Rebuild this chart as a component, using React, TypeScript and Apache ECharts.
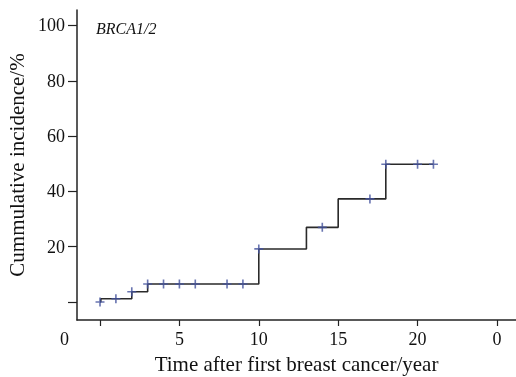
import React, { useEffect, useRef } from "react";
import * as echarts from "echarts";

const stepTimes = [0, 0.05, 2, 3, 10, 13, 15, 18, 21];
const stepValues = [0, 1.2, 3.7, 6.5, 19.2, 27, 37.3, 49.8, 49.8];
const censorTimes = [0, 1, 2, 3, 4, 5, 6, 8, 9, 10, 14, 17, 18, 20, 21];
const censorValues = [0, 1.2, 3.7, 6.5, 6.5, 6.5, 6.5, 6.5, 6.5, 19.2, 27, 37.3, 49.8, 49.8, 49.8];
const xTickValues = [0, 5, 10, 15, 20, 25];
const xLabelValues = [5, 10, 15, 20, 25];
const xLabelTexts: Record<number, string> = { 5: "5", 10: "10", 15: "15", 20: "20", 25: "0" };
const yTickValues = [0, 20, 40, 60, 80, 100];
const yLabelValues = [20, 40, 60, 80, 100];

const FONT = "Liberation Serif";
const PLUS = "path://M-0.9,-5H0.9V-0.9H5V0.9H0.9V5H-0.9V0.9H-5V-0.9H-0.9Z";

export default function App() {
  const ref = useRef<HTMLDivElement>(null);
  useEffect(() => {
    if (!ref.current) return;
    const chart = echarts.init(ref.current, undefined, { renderer: "svg" });
    chart.setOption({
      animation: false,
      grid: { left: 77, right: 0, top: 10, bottom: 57, outerBoundsMode: "none", containLabel: false },
      xAxis: {
        type: "value",
        min: -1.45,
        max: 26.2,
        name: "Time after first breast cancer/year",
        nameLocation: "middle",
        nameGap: 33,
        nameTextStyle: { fontFamily: FONT, fontSize: 21, color: "#111" },
        splitLine: { show: false },
        axisLine: { show: true, onZero: false, lineStyle: { color: "#222", width: 1.5 } },
        axisTick: { show: true, length: 6, customValues: xTickValues, lineStyle: { color: "#222", width: 1.2 } },
        axisLabel: {
          customValues: xLabelValues,
          formatter: (v: number) => xLabelTexts[v] ?? "",
          fontFamily: FONT,
          fontSize: 18,
          color: "#111",
          margin: 10,
        },
      },
      yAxis: {
        type: "value",
        min: -6.5,
        max: 105.6,
        name: "Cummulative incidence/%",
        nameLocation: "middle",
        nameGap: 49,
        nameTextStyle: { fontFamily: FONT, fontSize: 21, color: "#111" },
        splitLine: { show: false },
        axisLine: { show: true, onZero: false, lineStyle: { color: "#222", width: 1.5 } },
        axisTick: { show: true, length: 9, customValues: yTickValues, lineStyle: { color: "#222", width: 1.2 } },
        axisLabel: {
          customValues: yLabelValues,
          fontFamily: FONT,
          fontSize: 18,
          color: "#111",
          margin: 12,
        },
      },
      graphic: [
        {
          type: "text",
          left: 96,
          top: 20,
          style: { text: "BRCA1/2", fontFamily: FONT, fontStyle: "italic", fontSize: 16, fill: "#111" },
        },
        {
          type: "text",
          left: 60,
          top: 330,
          style: { text: "0", fontFamily: FONT, fontSize: 18, fill: "#111" },
        },
      ],
      series: [
        {
          type: "line",
          step: "end",
          data: stepTimes.map((t, i) => [t, stepValues[i]]),
          showSymbol: false,
          lineStyle: { color: "#2a2a2a", width: 1.6 },
          z: 2,
        },
        {
          type: "scatter",
          data: censorTimes.map((t, i) => [t, censorValues[i]]),
          symbol: PLUS,
          symbolSize: 9,
          itemStyle: { color: "#43529e" },
          z: 3,
        },
      ],
    });
    return () => chart.dispose();
  }, []);
  return <div ref={ref} style={{ position: "fixed", left: 0, top: 0, width: 516, height: 377 }} />;
}
